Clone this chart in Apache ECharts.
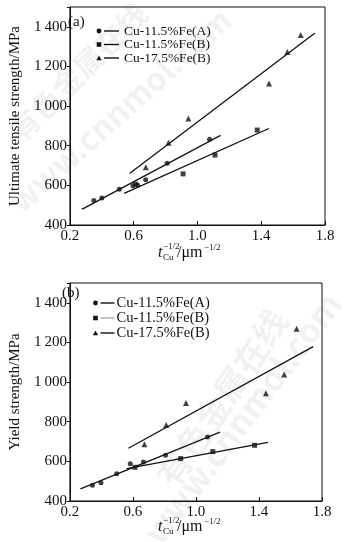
<!DOCTYPE html>
<html>
<head>
<meta charset="utf-8">
<script src="https://cdn.jsdelivr.net/npm/echarts@6/dist/echarts.min.js"></script>
<style>
  html, body { margin: 0; padding: 0; background: #fff; }
  #chart { width: 345px; height: 542px; }
</style>
</head>
<body>
<div id="chart"></div>
<script>
// Alloy series names
const seriesNames = ['Cu-11.5%Fe(A)', 'Cu-11.5%Fe(B)', 'Cu-17.5%Fe(B)'];

// Axis ticks
const xMin = 0.2, xMax = 1.8, xStep = 0.4;
const yMin = 400, yMax = 1500, yStep = 200;

// (a) ultimate tensile strength, MPa, vs t_Cu^-1/2
const utsA = [[0.35, 524], [0.40, 536], [0.51, 581], [0.595, 598], [0.625, 601], [0.675, 628], [0.81, 712], [1.076, 833]];
const utsB = [[0.612, 606], [0.91, 658], [1.11, 753], [1.375, 879]];
const uts175 = [[0.676, 691], [0.818, 815], [0.943, 937], [1.449, 1114], [1.564, 1273], [1.648, 1359]];
const utsFitA = [[0.275, 479], [1.145, 852]];
const utsFitB = [[0.54, 560], [1.448, 887]];
const utsFit175 = [[0.574, 660], [1.737, 1369]];

// (b) yield strength, MPa, vs t_Cu^-1/2
const ysA = [[0.343, 479], [0.397, 492], [0.497, 538], [0.583, 588], [0.667, 597], [0.807, 631], [1.073, 723]];
const ysB = [[0.613, 570], [0.903, 614], [1.107, 649], [1.372, 681]];
const ys175 = [[0.673, 686], [0.811, 784], [0.937, 895], [1.444, 944], [1.56, 1038], [1.639, 1269]];
const ysFitA = [[0.267, 461], [1.153, 748]];
const ysFitB = [[0.56, 563], [1.457, 696]];
const ysFit175 = [[0.571, 666], [1.744, 1179]];

const FONT = '"Liberation Serif", "Times New Roman", serif';
const INK = '#111';

const chart = echarts.init(document.getElementById('chart'), null, { renderer: 'canvas' });

function yLabel(v) {
  if (v > 1400) return '';
  const s = String(v);
  return s.length > 3 ? s.slice(0, s.length - 3) + '\u2009' + s.slice(-3) : s;
}
function xLabel(v) {
  return (Math.round(v * 10) / 10).toFixed(1);
}

function makeXAxis(gridIndex) {
  return {
    type: 'value', gridIndex, min: xMin, max: xMax, interval: xStep,
    axisLine: { lineStyle: { color: INK, width: 1 } },
    axisTick: { inside: true, length: 4, lineStyle: { color: INK } },
    axisLabel: { color: INK, fontFamily: FONT, fontSize: 15, margin: 4, formatter: xLabel },
    splitLine: { show: false }
  };
}
function makeYAxis(gridIndex, name) {
  return {
    type: 'value', gridIndex, min: yMin, max: yMax, interval: yStep,
    name, nameLocation: 'middle', nameRotate: 90, nameGap: 41,
    nameTextStyle: { color: INK, fontFamily: FONT, fontSize: 15 },
    axisLine: { lineStyle: { color: INK, width: 1 } },
    axisTick: { inside: false, length: 3, lineStyle: { color: INK } },
    axisLabel: { color: INK, fontFamily: FONT, fontSize: 15, margin: 3, formatter: yLabel },
    splitLine: { show: false }
  };
}

const symbols = ['circle', 'rect', 'triangle'];
const symbolSizes = [5, 5, 6];

function scatter(i, data, idx) {
  return {
    type: 'scatter', name: seriesNames[i], data, xAxisIndex: idx, yAxisIndex: idx,
    symbol: symbols[i], symbolSize: symbolSizes[i],
    itemStyle: { color: INK }, z: 3
  };
}
function fit(i, data, idx) {
  return {
    type: 'line', name: seriesNames[i], data, xAxisIndex: idx, yAxisIndex: idx,
    showSymbol: false, symbol: 'none', itemStyle: { color: INK },
    lineStyle: { color: INK, width: 1.3 }, z: 2
  };
}

// Key: marker, short rule, label — one row per alloy
function keyMarker(i, cx, cy) {
  const st = { fill: INK };
  if (i === 0) return { type: 'circle', shape: { cx, cy, r: 2.4 }, style: st };
  if (i === 1) return { type: 'rect', shape: { x: cx - 2.3, y: cy - 2.3, width: 4.6, height: 4.6 }, style: st };
  return { type: 'polygon', shape: { points: [[cx - 2.6, cy + 2.2], [cx, cy - 2.6], [cx + 2.6, cy + 2.2]] }, style: st };
}
function keyBlock(x, y, rowH, lineLen, gap, fontSize, thinRows) {
  const out = [];
  seriesNames.forEach((n, i) => {
    const cy = y + i * rowH;
    const thin = thinRows.indexOf(i) >= 0;
    out.push(keyMarker(i, x, cy));
    out.push({ type: 'line', shape: { x1: x + 5, y1: cy, x2: x + 5 + lineLen, y2: cy },
      style: { stroke: thin ? '#555' : INK, lineWidth: thin ? 0.7 : 1.4 } });
    out.push({ type: 'text', x: x + 5 + lineLen + gap, y: cy,
      style: { text: n, fill: INK, fontFamily: FONT, fontSize, verticalAlign: 'middle' } });
  });
  return { type: 'group', silent: true, children: out };
}

// x-axis title: t_Cu^-1/2 / um^-1/2
function xTitle(x, y) {
  const base = { fill: INK, fontFamily: FONT, verticalAlign: 'middle' };
  return {
    type: 'group', x, y, silent: true,
    children: [
      { type: 'text', x: 0, y: 0, style: Object.assign({}, base, { text: 't', fontSize: 16, fontStyle: 'italic' }) },
      { type: 'text', x: 5, y: 5, style: Object.assign({}, base, { text: 'Cu', fontSize: 9 }) },
      { type: 'text', x: 5, y: -6, style: Object.assign({}, base, { text: '\u22121/2', fontSize: 9 }) },
      { type: 'text', x: 19, y: 0, style: Object.assign({}, base, { text: '/\u03bcm', fontSize: 16 }) },
      { type: 'text', x: 46, y: -5, style: Object.assign({}, base, { text: '\u22121/2', fontSize: 9 }) }
    ]
  };
}

// faint publisher watermark
function mark(text, x, y, deg, size) {
  return {
    type: 'text', x, y, rotation: deg * Math.PI / 180, z: -10, silent: true,
    style: {
      text, fontSize: size, fontWeight: 'bold', fontFamily: '"Noto Sans CJK SC", "DejaVu Sans", sans-serif',
      fill: 'rgba(0,0,0,0.055)', align: 'center', verticalAlign: 'middle'
    }
  };
}

const option = {
  animation: false,
  backgroundColor: '#fff',
  grid: [
    { left: 57, top: 7, width: 268, height: 218, show: true, borderColor: INK, borderWidth: 1, backgroundColor: 'transparent' },
    { left: 55, top: 283, width: 267, height: 218, show: true, borderColor: INK, borderWidth: 1, backgroundColor: 'transparent' }
  ],
  xAxis: [makeXAxis(0), makeXAxis(1)],
  yAxis: [makeYAxis(0, 'Ultimate tensile strength/MPa'), makeYAxis(1, 'Yield strength/MPa')],
  graphic: [
    mark('有色金属在线', 78, 72, 45, 30),
    mark('www.cnnmol.com', 120, 110, 42, 32),
    mark('有色金属在线', 222, 398, 56, 34),
    mark('www.cnnmol.com', 242, 418, 53, 34),
    { type: 'text', x: 68, y: 22, style: { text: '(a)', fill: INK, fontFamily: FONT, fontSize: 15, verticalAlign: 'middle' } },
    { type: 'text', x: 62, y: 293, style: { text: '(b)', fill: INK, fontFamily: FONT, fontSize: 15, verticalAlign: 'middle' } },
    keyBlock(99, 31, 13.5, 15, 5, 13.5, []),
    keyBlock(95.5, 303, 15, 14, 2, 14.5, [1]),
    xTitle(158, 253),
    xTitle(158, 527)
  ],
  series: [
    scatter(0, utsA, 0), scatter(1, utsB, 0), scatter(2, uts175, 0),
    fit(0, utsFitA, 0), fit(1, utsFitB, 0), fit(2, utsFit175, 0),
    scatter(0, ysA, 1), scatter(1, ysB, 1), scatter(2, ys175, 1),
    fit(0, ysFitA, 1), fit(1, ysFitB, 1), fit(2, ysFit175, 1)
  ]
};
chart.setOption(option);
</script>
</body>
</html>
